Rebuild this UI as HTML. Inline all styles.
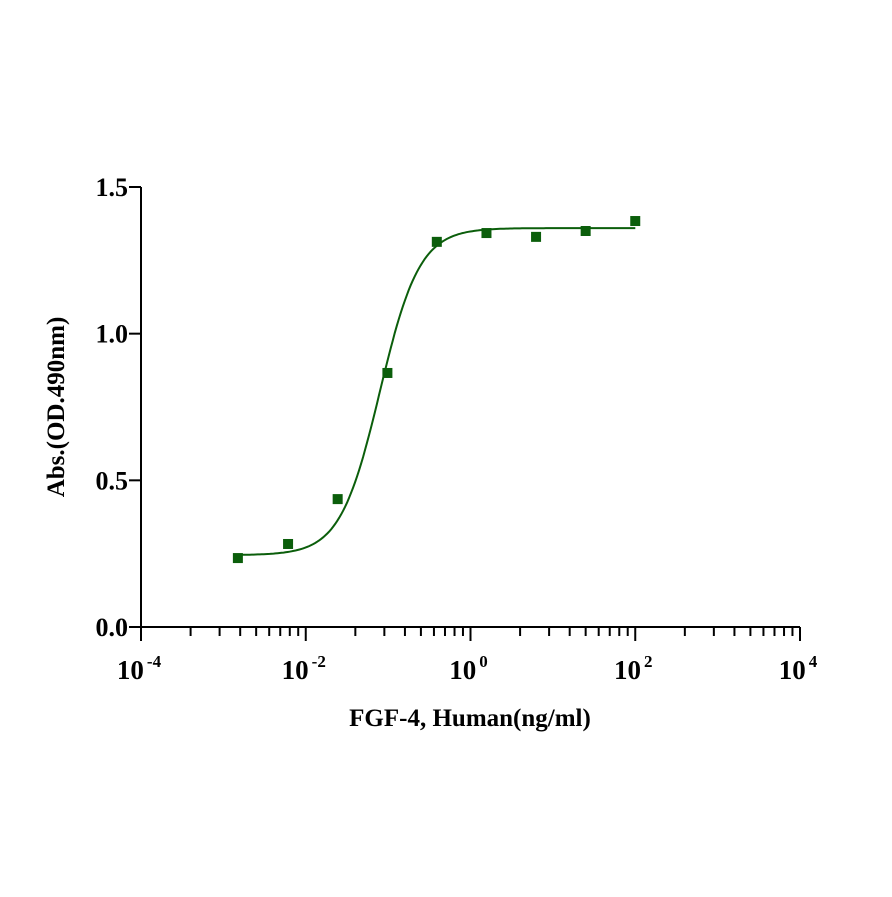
<!DOCTYPE html>
<html><head><meta charset="utf-8"><style>
html,body{margin:0;padding:0;background:#fff;}
svg text{font-family:"Liberation Serif",serif;font-weight:bold;fill:#000;}
</style></head><body>
<svg id="chart" width="892" height="892" viewBox="0 0 892 892" xmlns="http://www.w3.org/2000/svg">
<rect width="892" height="892" fill="#fff"/>
<g id="axes"></g>
<g id="marks"></g>
<text x="470" y="726" font-size="25" text-anchor="middle">FGF-4, Human(ng/ml)</text>
<text transform="translate(64,407) rotate(-90)" font-size="25" text-anchor="middle">Abs.(OD.490nm)</text>
</svg>
<script>
const xConc = [0.0015, 0.0061, 0.0244, 0.098, 0.39, 1.5625, 6.25, 25, 100];
const yAbs = [0.235, 0.283, 0.436, 0.866, 1.313, 1.343, 1.33, 1.35, 1.384];
const fitBottom = 0.245, fitTop = 1.36, fitLogEC50 = -1.1, fitHill = 1.8;
const yTicks = [0.0, 0.5, 1.0, 1.5];
const yTickLabels = ["0.0", "0.5", "1.0", "1.5"];
const xTickExp = [-4, -2, 0, 2, 4];

const NS = "http://www.w3.org/2000/svg";
const X0 = 141, X1 = 800, Y0 = 627, Y1 = 187;
const xs = v => X0 + (Math.log10(v) + 4) / 8 * (X1 - X0);
const ys = v => Y0 - v / 1.5 * (Y0 - Y1);
function mk(tag, attrs, parent) {
  const e = document.createElementNS(NS, tag);
  for (const k in attrs) e.setAttribute(k, attrs[k]);
  parent.appendChild(e); return e;
}
const axes = document.getElementById('axes'), marks = document.getElementById('marks');
const st = {stroke: '#000', 'stroke-width': 2};
let a = mk('line', Object.assign({x1: X0, y1: Y0, x2: X1, y2: Y0}, st), axes);
 
a = mk('line', Object.assign({x1: X0, y1: Y0, x2: X0, y2: Y1}, st), axes);
 
yTicks.forEach((v, i) => {
  const y = ys(v);
  const t = mk('line', Object.assign({x1: X0 - 12, y1: y, x2: X0, y2: y}, st), axes);
   
  const l = mk('text', {x: X0 - 13, y: y + 9, 'font-size': 26, 'text-anchor': 'end'}, axes);
  l.textContent = yTickLabels[i];
   
});
xTickExp.forEach((e, i) => {
  const x = xs(Math.pow(10, e));
  const t = mk('line', Object.assign({x1: x, y1: Y0, x2: x, y2: Y0 + 14}, st), axes);
   
  if (i < xTickExp.length - 1) {
    const span = xs(Math.pow(10, xTickExp[i + 1])) - x;
    for (let k = 2; k <= 9; k++) {
      const mx = x + span * Math.log10(k);
      const m = mk('line', Object.assign({x1: mx, y1: Y0, x2: mx, y2: Y0 + 9}, st), axes);
       
    }
  }
  const l = mk('text', {x: x - 2, y: Y0 + 52, 'font-size': 27, 'text-anchor': 'middle'}, axes);
  l.textContent = '10';
  const s = mk('tspan', {dx: 3, dy: -12, 'font-size': 17}, l);
  s.textContent = String(e);
   
});
let d = '';
const lmin = Math.log10(xConc[0]), lmax = Math.log10(xConc[xConc.length - 1]);
for (let i = 0; i <= 200; i++) {
  const lx = lmin + (lmax - lmin) * i / 200;
  const y = fitBottom + (fitTop - fitBottom) / (1 + Math.pow(10, (fitLogEC50 - lx) * fitHill));
  d += (i ? 'L' : 'M') + xs(Math.pow(10, lx)).toFixed(1) + ',' + ys(y).toFixed(1);
}
const c = mk('path', {d: d, fill: 'none', stroke: '#0b5e0b', 'stroke-width': 2}, marks);
 
xConc.forEach((v, i) => {
  const p = mk('rect', {x: xs(v) - 5, y: ys(yAbs[i]) - 5, width: 10, height: 10, fill: '#0b5e0b'}, marks);
   
});
</script>
</body></html>
